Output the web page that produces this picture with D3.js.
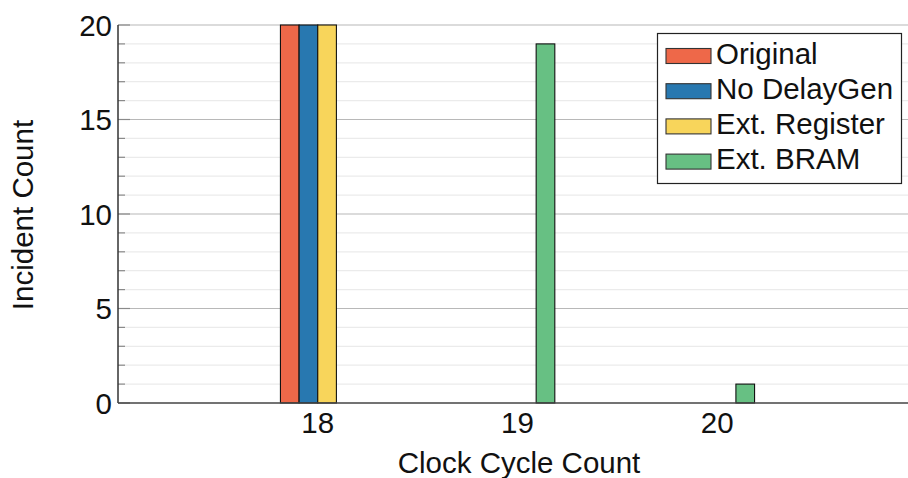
<!DOCTYPE html>
<html>
<head>
<meta charset="utf-8">
<script src="https://cdn.jsdelivr.net/npm/d3@7"></script>
<style>
  html, body { margin: 0; padding: 0; background: #fff; }
  svg { display: block; font-family: Arial, "Liberation Sans", Helvetica, sans-serif; }
</style>
</head>
<body>
<svg id="chart" width="908" height="478"></svg>
<script>
// Clock cycle bins on the x axis
const cycles = [18, 19, 20];
// Series names and colours
const seriesNames = ["Original", "No DelayGen", "Ext. Register", "Ext. BRAM"];
const seriesColors = ["#ee6849", "#2878b0", "#f8d55b", "#67c083"];
// Incident counts per series, one value per clock cycle bin
const original = [20, 0, 0];
const noDelayGen = [20, 0, 0];
const extRegister = [20, 0, 0];
const extBram = [0, 19, 1];
// Axis ticks
const yMajorTicks = [0, 5, 10, 15, 20];
const yMinorTicks = d3.range(0, 21, 1);

const seriesValues = [original, noDelayGen, extRegister, extBram];

const svg = d3.select("#chart");

const x = d3.scaleLinear().domain([17, 21]).range([118, 917]);
const y = d3.scaleLinear().domain([0, 20]).range([403, 25]);

const barW = 0.0934; // bar width in x units
const fontSize = 29.5;

const plot = svg.append("g");

// minor gridlines
plot.selectAll("line.minor")
  .data(yMinorTicks.filter(v => v % 5 !== 0))
  .join("line")
  .attr("x1", x(17)).attr("x2", x(21))
  .attr("y1", d => y(d)).attr("y2", d => y(d))
  .attr("stroke", "#ebebeb").attr("stroke-width", 1.2);

// major gridlines
plot.selectAll("line.major")
  .data(yMajorTicks.filter(v => v !== 0))
  .join("line")
  .attr("x1", x(17)).attr("x2", x(21))
  .attr("y1", d => y(d)).attr("y2", d => y(d))
  .attr("stroke", "#b8b8b8").attr("stroke-width", 1.2);

// bars
const rows = [];
seriesValues.forEach((vals, si) => {
  vals.forEach((v, ci) => rows.push({ si, c: cycles[ci], v }));
});
plot.selectAll("rect.bar")
  .data(rows)
  .join("rect")
  .attr("x", d => x(d.c + (d.si - 2) * barW))
  .attr("width", d => x(d.c + (d.si - 1) * barW) - x(d.c + (d.si - 2) * barW))
  .attr("y", d => y(d.v))
  .attr("height", d => y(0) - y(d.v))
  .attr("fill", d => seriesColors[d.si])
  .attr("stroke", "#111")
  .attr("stroke-width", 1.1);

// y tick marks (inward)
plot.selectAll("line.ytick")
  .data(yMinorTicks)
  .join("line")
  .attr("x1", x(17)).attr("x2", d => x(17) + (d % 5 === 0 ? 12 : 7))
  .attr("y1", d => y(d)).attr("y2", d => y(d))
  .attr("stroke", "#8a8a8a").attr("stroke-width", 1.2);

// axes lines
plot.append("line")
  .attr("x1", x(17)).attr("x2", x(17))
  .attr("y1", y(20)).attr("y2", y(0))
  .attr("stroke", "#333").attr("stroke-width", 1.5);
plot.append("line")
  .attr("x1", x(17)).attr("x2", x(21))
  .attr("y1", y(0)).attr("y2", y(0))
  .attr("stroke", "#444").attr("stroke-width", 1.6);

// y tick labels
svg.selectAll("text.ylab")
  .data(yMajorTicks)
  .join("text")
  .attr("x", x(17) - 6)
  .attr("y", d => y(d))
  .attr("dy", "0.36em")
  .attr("text-anchor", "end")
  .attr("font-size", fontSize)
  .attr("fill", "#111")
  .text(d => d);

// x tick labels
svg.selectAll("text.xlab")
  .data(cycles)
  .join("text")
  .attr("x", d => x(d))
  .attr("y", 433)
  .attr("text-anchor", "middle")
  .attr("font-size", fontSize)
  .attr("fill", "#111")
  .text(d => d);

// axis titles
svg.append("text")
  .attr("x", 519).attr("y", 473)
  .attr("text-anchor", "middle")
  .attr("font-size", fontSize)
  .attr("fill", "#111")
  .text("Clock Cycle Count");

svg.append("text")
  .attr("transform", "translate(33,215) rotate(-90)")
  .attr("text-anchor", "middle")
  .attr("font-size", fontSize)
  .attr("fill", "#111")
  .text("Incident Count");

// legend
const lg = svg.append("g");
lg.append("rect")
  .attr("x", 657.5).attr("y", 33.5)
  .attr("width", 244).attr("height", 150)
  .attr("fill", "#fff").attr("stroke", "#222").attr("stroke-width", 1.2);
const items = lg.selectAll("g.item")
  .data(seriesNames)
  .join("g")
  .attr("transform", (d, i) => `translate(0, ${48.5 + i * 35.2})`);
items.append("rect")
  .attr("x", 666).attr("y", 0)
  .attr("width", 45).attr("height", 15)
  .attr("fill", (d, i) => seriesColors[i])
  .attr("stroke", "#333").attr("stroke-width", 1.1);
items.append("text")
  .attr("x", 716).attr("y", 15)
  .attr("font-size", fontSize)
  .attr("fill", "#111")
  .text(d => d);
</script>
</body>
</html>
